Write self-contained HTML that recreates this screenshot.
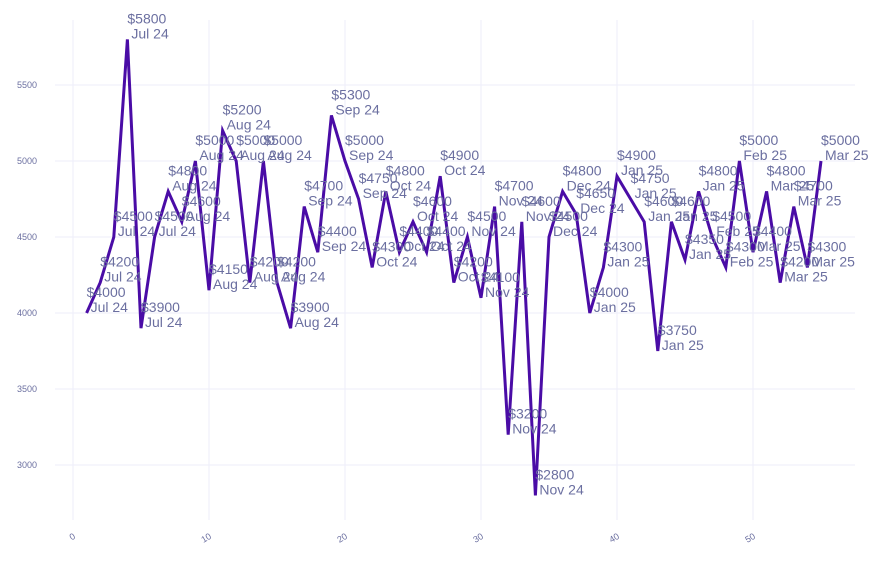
<!DOCTYPE html>
<html><head><meta charset="utf-8"><style>
body{margin:0;background:#fff;font-family:"Liberation Sans",sans-serif}
</style></head><body>
<svg id="chart" width="882" height="558" xmlns="http://www.w3.org/2000/svg"></svg>
<script>
const xs=[1,2,3,4,5,6,7,8,9,10,11,12,13,14,15,16,17,18,19,20,21,22,23,24,25,26,27,28,29,30,31,32,33,34,35,36,37,38,39,40,41,42,43,44,45,46,47,48,49,50,51,52,53,54,55];
const values=[4000,4200,4500,5800,3900,4500,4800,4600,5000,4150,5200,5000,4200,5000,4200,3900,4700,4400,5300,5000,4750,4300,4800,4400,4600,4400,4900,4200,4500,4100,4700,3200,4600,2800,4500,4800,4650,4000,4300,4900,4750,4600,3750,4600,4350,4800,4500,4300,5000,4400,4800,4200,4700,4300,5000];
const months=["Jul 24","Jul 24","Jul 24","Jul 24","Jul 24","Jul 24","Aug 24","Aug 24","Aug 24","Aug 24","Aug 24","Aug 24","Aug 24","Aug 24","Aug 24","Aug 24","Sep 24","Sep 24","Sep 24","Sep 24","Sep 24","Oct 24","Oct 24","Oct 24","Oct 24","Oct 24","Oct 24","Oct 24","Nov 24","Nov 24","Nov 24","Nov 24","Nov 24","Nov 24","Dec 24","Dec 24","Dec 24","Jan 25","Jan 25","Jan 25","Jan 25","Jan 25","Jan 25","Jan 25","Jan 25","Jan 25","Feb 25","Feb 25","Feb 25","Mar 25","Mar 25","Mar 25","Mar 25","Mar 25","Mar 25"];
const yTicks=[3000,3500,4000,4500,5000,5500];
const xTicks=[0,10,20,30,40,50];
const NS="http://www.w3.org/2000/svg";
const svg=document.getElementById('chart');
const X=v=>73+13.6*v;
const Y=v=>313-(v-4000)*0.152;
function mk(t,a,p){const e=document.createElementNS(NS,t);for(const k in a)e.setAttribute(k,a[k]);(p||svg).appendChild(e);return e;}
yTicks.forEach(t=>{
  const g=mk('line',{x1:55,x2:855,y1:Y(t),y2:Y(t),stroke:'#eeeefa','stroke-width':1});
  
  
  const l=mk('text',{x:37,y:Y(t)+3,'text-anchor':'end','font-size':9,fill:'#6b6fa0'});
  l.textContent=t;
  
  
});
xTicks.forEach(t=>{
  const g=mk('line',{x1:X(t),x2:X(t),y1:20,y2:520,stroke:'#eeeefa','stroke-width':1});
  
  
  const l=mk('text',{x:X(t)+3,y:538,'text-anchor':'end','font-size':9,fill:'#6b6fa0',transform:`rotate(-30 ${X(t)+3} 538)`});
  l.textContent=t;
  
  
});
const pts=xs.map((x,i)=>X(x)+','+Y(values[i])).join(' ');
const line=mk('polyline',{points:pts,fill:'none',stroke:'#4a0ca6','stroke-width':3,'stroke-linejoin':'miter'});


xs.forEach((x,i)=>{
  const t=mk('text',{'font-size':14,fill:'#6b6fa0'});
  
  
  const a=mk('tspan',{x:X(x),y:Y(values[i])-16},t);a.textContent='$'+values[i];
  const b=mk('tspan',{x:X(x)+4,y:Y(values[i])-1},t);b.textContent=months[i];
});
</script>
</body></html>
